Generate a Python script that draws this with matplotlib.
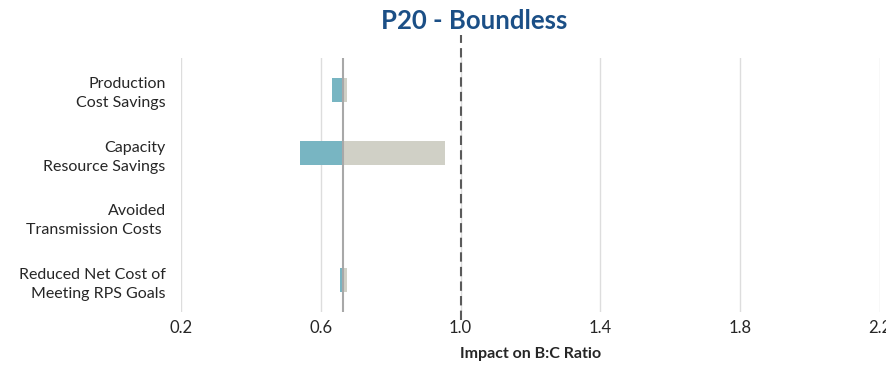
import matplotlib
matplotlib.use("Agg")
import matplotlib.pyplot as plt

categories = ["Production\nCost Savings", "Capacity\nResource Savings",
              "Avoided\nTransmission Costs ", "Reduced Net Cost of\nMeeting RPS Goals"]
base_value = 0.663
low_values = [0.632, 0.540, 0.663, 0.655]
high_values = [0.675, 0.956, 0.663, 0.674]
xticks = [0.2, 0.6, 1.0, 1.4, 1.8, 2.2]
reference_line = 1.0

plt.rcParams['font.family'] = ['Lato', 'DejaVu Sans']

fig = plt.figure(figsize=(8.86, 3.68), dpi=100)
ax = fig.add_axes([181/886, (368-312)/368, (880-181)/886, (312-58)/368])

y = list(range(len(categories)))
teal = "#78B5C2"
grey = "#D0D0C6"
for yi, lo, hi in zip(y, low_values, high_values):
    ax.barh(yi, lo - base_value, left=base_value, height=0.38, color=teal, zorder=3)
    ax.barh(yi, hi - base_value, left=base_value, height=0.38, color=grey, zorder=2)

ax.set_xlim(0.2, 2.2)
ax.set_ylim(3.5, -0.5)
ax.set_xticks(xticks)
ax.set_xticklabels([f"{v:.1f}" for v in xticks])
ax.set_yticks(y)
ax.set_yticklabels(categories, linespacing=1.45)
ax.tick_params(axis='both', length=0, colors="#262626")
ax.tick_params(axis='y', pad=11, labelsize=11.5)
ax.tick_params(axis='x', pad=6, labelsize=12)
ax.xaxis.grid(True, color="#DDDDDD", linewidth=1.0, zorder=0)
ax.set_axisbelow(True)
for s in ax.spines.values():
    s.set_visible(False)

ax.axvline(base_value, color="#A8A8A8", linewidth=1.5, zorder=4)
ax.plot([reference_line, reference_line], [-0.03, 1.09], transform=ax.get_xaxis_transform(),
        color="#5A5A5A", linewidth=1.5, linestyle=(0, (4.5, 2.5)), clip_on=False, zorder=5)

ax.set_xlabel("Impact on B:C Ratio", fontsize=11.5, fontweight='bold', color="#262626", labelpad=8)
fig.text(474/886, 1 - 21/368, "P20 - Boundless", ha='center', va='center',
         fontsize=18.5, fontweight='bold', color="#1B4F86")

fig.savefig("out.png", dpi=100)
